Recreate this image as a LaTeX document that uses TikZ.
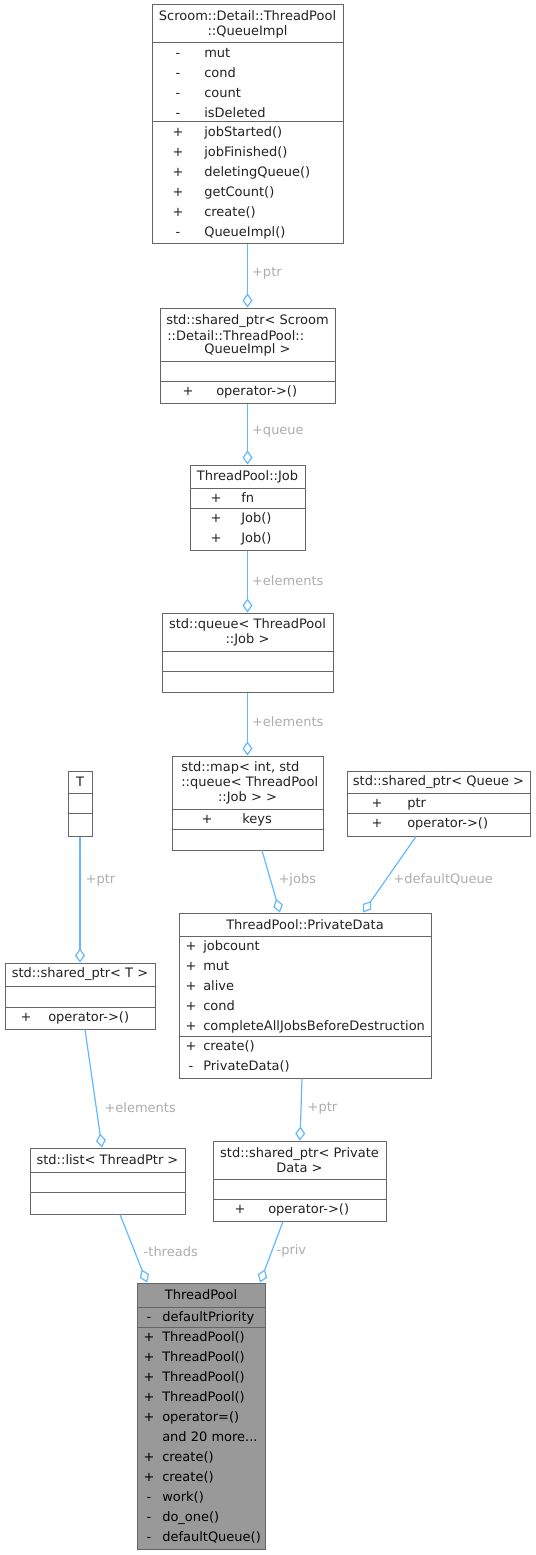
\documentclass[tikz,border=0pt]{standalone}
\usepackage{fontspec}
\setmainfont{DejaVu Sans}
\usepackage{tikz}
\usetikzlibrary{arrows.meta,calc,fit}
\usepackage{xcolor}
\definecolor{boxgray}{HTML}{666666}
\definecolor{edgeblue}{HTML}{63B8FF}
\definecolor{labelgray}{HTML}{ADADAD}
\definecolor{poolgray}{HTML}{999999}
\definecolor{textdark}{HTML}{222222}
\newcommand{\umlfont}{\fontsize{9.75}{15}\selectfont}
\newcommand{\umltitlefont}{\fontsize{9.75}{11.25}\selectfont}
\newcommand{\vislist}[1]{\begin{tabular}{@{}c@{}}#1\end{tabular}}
\newcommand{\memlist}[1]{\begin{tabular}{@{}l@{}}#1\end{tabular}}
\tikzset{
    classBox/.style={
        draw=boxgray,
        fill=white,
        line width=0.75pt,
        inner sep=0pt
    },
    divider/.style={draw=boxgray, line width=0.75pt},
    classTitle/.style={font=\umltitlefont, text=textdark, inner sep=0pt, align=center},
    visCol/.style={font=\umlfont, text=textdark, anchor=north, inner sep=0pt},
    memberCol/.style={font=\umlfont, text=textdark, anchor=north west, inner sep=0pt},
    assoc/.style={draw=edgeblue, line width=0.9pt, -{Diamond[open, length=10.5pt, width=7.5pt]}},
    edgeLabel/.style={font=\umlfont, text=labelgray, anchor=west, inner sep=0pt, xshift=3pt},
}

\begin{document}
\begin{tikzpicture}[x=0.75pt, y=-0.75pt]
    \useasboundingbox (0,0) rectangle (535,1555);

    % QueueImpl
    \node[classBox, fit={(152,5) (343,244)}] (qi) {};
    \node[classTitle] (qiTitle) at (247.5,24.5) {Scroom::Detail::ThreadPool\\::QueueImpl};
    \draw[divider] (152,43) -- (343,43);
    \draw[divider] (152,122) -- (343,122);
    \node[visCol] (qiAttrVis) at (178,43) {\vislist{-\\-\\-\\-}};
    \node[memberCol] (qiAttr) at (204,43) {\memlist{mut\\cond\\count\\isDeleted}};
    \node[visCol] (qiOpsVis) at (178,122) {\vislist{+\\+\\+\\+\\+\\-}};
    \node[memberCol] (qiOps) at (204,122) {\memlist{jobStarted()\\jobFinished()\\deletingQueue()\\getCount()\\create()\\QueueImpl()}};

    % shared_ptr to QueueImpl
    \node[classBox, fit={(160,308) (335,403)}] (sptrQi) {};
    \node[classTitle] (sptrQiTitleA) at (247.5,321) {std::shared\_ptr< Scroom};
    \node[classTitle, anchor=west] (sptrQiTitleB) at (167,336) {::Detail::ThreadPool::};
    \node[classTitle] (sptrQiTitleC) at (247.5,350) {QueueImpl >};
    \draw[divider] (160,361) -- (335,361);
    \draw[divider] (160,381) -- (335,381);
    \node[visCol] (sptrQiOpsVis) at (188,381) {\vislist{+}};
    \node[memberCol] (sptrQiOps) at (216,381) {\memlist{operator->()}};

    % Job
    \node[classBox, fit={(190,465) (305,550)}] (job) {};
    \node[classTitle] (jobTitle) at (247.5,477) {ThreadPool::Job};
    \draw[divider] (190,488) -- (305,488);
    \draw[divider] (190,508) -- (305,508);
    \node[visCol] (jobAttrVis) at (216,488) {\vislist{+}};
    \node[memberCol] (jobAttr) at (241,488) {\memlist{fn}};
    \node[visCol] (jobOpsVis) at (216,508) {\vislist{+\\+}};
    \node[memberCol] (jobOps) at (241,508) {\memlist{Job()\\Job()}};

    % queue of jobs
    \node[classBox, fit={(162,613) (333,692)}] (jobQueue) {};
    \node[classTitle] (jobQueueTitle) at (247.5,632) {std::queue< ThreadPool\\::Job >};
    \draw[divider] (162,651) -- (333,651);
    \draw[divider] (162,671) -- (333,671);

    % map of queues
    \node[classBox, fit={(172,756) (323,850)}] (jobMap) {};
    \node[classTitle, anchor=west] (jobMapTitleA) at (181,768) {std::map< int, std};
    \node[classTitle, anchor=west] (jobMapTitleB) at (181,783) {::queue< ThreadPool};
    \node[classTitle] (jobMapTitleC) at (247.5,798) {::Job > >};
    \draw[divider] (172,809) -- (323,809);
    \draw[divider] (172,829) -- (323,829);
    \node[visCol] (jobMapAttrVis) at (207,809) {\vislist{+}};
    \node[memberCol] (jobMapAttr) at (242,809) {\memlist{keys}};

    % shared_ptr to Queue
    \node[classBox, fit={(347,771) (530,836)}] (sptrQueue) {};
    \node[classTitle] (sptrQueueTitle) at (438.5,782) {std::shared\_ptr< Queue >};
    \draw[divider] (347,793) -- (530,793);
    \draw[divider] (347,813) -- (530,813);
    \node[visCol] (sptrQueueAttrVis) at (377,793) {\vislist{+}};
    \node[memberCol] (sptrQueueAttr) at (407,793) {\memlist{ptr}};
    \node[visCol] (sptrQueueOpsVis) at (377,813) {\vislist{+}};
    \node[memberCol] (sptrQueueOps) at (407,813) {\memlist{operator->()}};

    % T
    \node[classBox, fit={(68,771) (92,836)}] (tParam) {};
    \node[classTitle] (tParamTitle) at (80,782) {T};
    \draw[divider] (68,793) -- (92,793);
    \draw[divider] (68,813) -- (92,813);

    % PrivateData
    \node[classBox, fit={(179,913) (431,1078)}] (privData) {};
    \node[classTitle] (privDataTitle) at (305,924.5) {ThreadPool::PrivateData};
    \draw[divider] (179,936) -- (431,936);
    \draw[divider] (179,1036) -- (431,1036);
    \node[visCol] (privDataAttrVis) at (191,936) {\vislist{+\\+\\+\\+\\+}};
    \node[memberCol] (privDataAttr) at (203,936) {\memlist{jobcount\\mut\\alive\\cond\\completeAllJobsBeforeDestruction}};
    \node[visCol] (privDataOpsVis) at (191,1036) {\vislist{+\\-}};
    \node[memberCol] (privDataOps) at (203,1036) {\memlist{create()\\PrivateData()}};

    % shared_ptr to T
    \node[classBox, fit={(5,963) (155,1029)}] (sptrT) {};
    \node[classTitle] (sptrTTitle) at (80,974.5) {std::shared\_ptr< T >};
    \draw[divider] (5,986) -- (155,986);
    \draw[divider] (5,1007) -- (155,1007);
    \node[visCol] (sptrTOpsVis) at (26,1007) {\vislist{+}};
    \node[memberCol] (sptrTOps) at (48,1007) {\memlist{operator->()}};

    % list of threads
    \node[classBox, fit={(30,1148) (185,1214)}] (threadList) {};
    \node[classTitle] (threadListTitle) at (107.5,1160) {std::list< ThreadPtr >};
    \draw[divider] (30,1172) -- (185,1172);
    \draw[divider] (30,1192) -- (185,1192);

    % shared_ptr to PrivateData
    \node[classBox, fit={(213,1141) (386,1221)}] (sptrPriv) {};
    \node[classTitle] (sptrPrivTitle) at (299.5,1160) {std::shared\_ptr< Private\\Data >};
    \draw[divider] (213,1179) -- (386,1179);
    \draw[divider] (213,1199) -- (386,1199);
    \node[visCol] (sptrPrivOpsVis) at (240,1199) {\vislist{+}};
    \node[memberCol] (sptrPrivOps) at (268,1199) {\memlist{operator->()}};

    % ThreadPool
    \node[classBox, fill=poolgray, fit={(137,1283) (265,1549)}] (pool) {};
    \node[classTitle, text=black] (poolTitle) at (201,1295) {ThreadPool};
    \draw[divider] (137,1307) -- (265,1307);
    \draw[divider] (137,1327) -- (265,1327);
    \node[visCol, text=black] (poolAttrVis) at (149,1307) {\vislist{-}};
    \node[memberCol, text=black] (poolAttr) at (162,1307) {\memlist{defaultPriority}};
    \node[visCol, text=black] (poolOpsVis) at (149,1327) {\vislist{+\\+\\+\\+\\+\\ \\+\\+\\-\\-\\-}};
    \node[memberCol, text=black] (poolOps) at (162,1327) {\memlist{ThreadPool()\\ThreadPool()\\ThreadPool()\\ThreadPool()\\operator=()\\and 20 more...\\create()\\create()\\work()\\do\_one()\\defaultQueue()}};

    % associations
    \draw[assoc] (qi.south) -- (sptrQi.north) node[edgeLabel, pos=0.45] {+ptr};
    \draw[assoc] (sptrQi.south) -- (job.north) node[edgeLabel, pos=0.47] {+queue};
    \draw[assoc] (job.south) -- (jobQueue.north) node[edgeLabel, pos=0.48] {+elements};
    \draw[assoc] (jobQueue.south) -- (jobMap.north) node[edgeLabel, pos=0.47] {+elements};
    \draw[assoc] ($(jobMap.south)+(14.5,0)$) -- ($(privData.north)+(-25,0)$) node[edgeLabel, pos=0.48, xshift=2.5pt] {+jobs};
    \draw[assoc] ($(sptrQueue.south)+(-22.5,0)$) -- ($(privData.north)+(58,0)$) node[edgeLabel, pos=0.57, xshift=2.3pt] {+defaultQueue};
    \draw[assoc] (tParam.south) -- (sptrT.north) node[edgeLabel, pos=0.35, xshift=0.8pt] {+ptr};
    \draw[assoc] ($(sptrT.south)+(5,0)$) -- ($(threadList.north)+(-5.5,0)$) node[edgeLabel, pos=0.66, xshift=2.8pt] {+elements};
    \draw[assoc] ($(privData.south)+(-3,0)$) -- ($(sptrPriv.north)+(0.5,0)$) node[edgeLabel, pos=0.48, xshift=1.5pt] {+ptr};
    \draw[assoc] ($(threadList.south)+(12.5,0)$) -- ($(pool.north)+(-54,0)$) node[edgeLabel, pos=0.54, xshift=3.4pt] {-threads};
    \draw[assoc] ($(sptrPriv.south)+(-16.5,0)$) -- ($(pool.north)+(59,0)$) node[edgeLabel, pos=0.48] {-priv};

\end{tikzpicture}
\end{document}
